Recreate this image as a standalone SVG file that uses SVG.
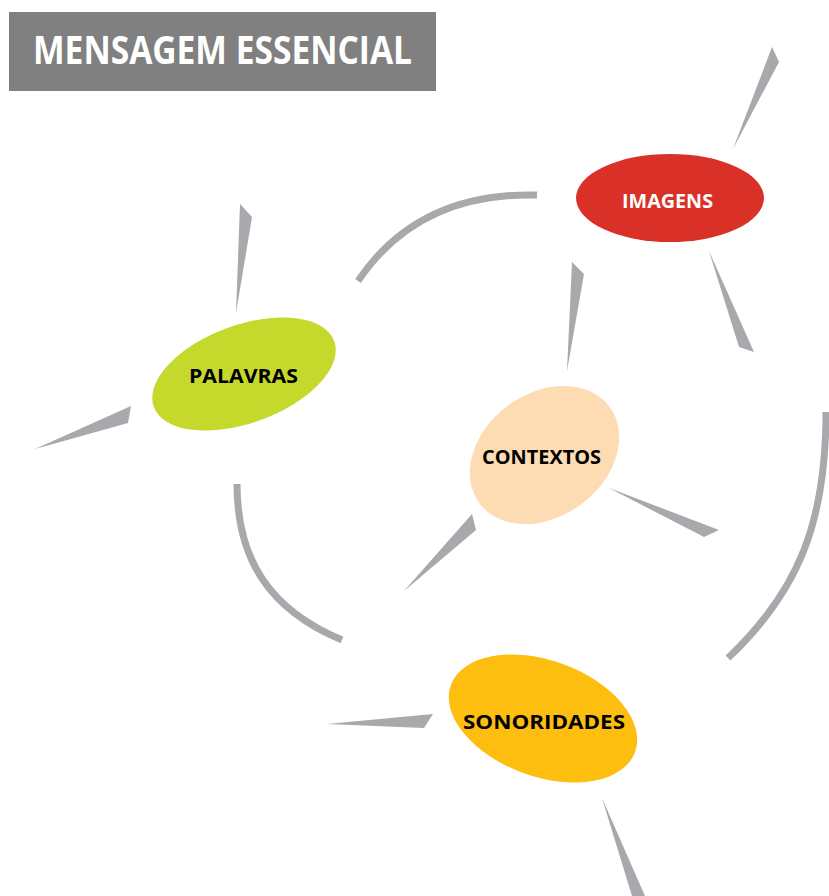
<svg xmlns="http://www.w3.org/2000/svg" width="829" height="896" viewBox="0 0 829 896">
<style>
.spike{fill:#A7A9AC}
.arc{fill:none;stroke:#A7A9AC;stroke-width:7}
.lbl{font-family:"Open Sans","Liberation Sans",sans-serif;font-weight:bold;font-size:19.5px}
</style>
<rect width="829" height="896" fill="#FFFFFF"/>
<g id="title">
<rect x="9" y="12" width="427" height="79" fill="#808080"/>
<text x="33" y="64" font-family="'Open Sans','Liberation Sans',sans-serif" font-weight="bold" font-size="40" fill="#FFFFFF" textLength="379" lengthAdjust="spacingAndGlyphs">MENSAGEM ESSENCIAL</text>
</g>
<g id="connectors">
<path class="arc" d="M358,281 Q418,192 537,195"/>
<path class="arc" d="M237,484 C237,560 270,610 342,640"/>
<path class="arc" d="M826,412 C826,520 800,590 728,658"/>
<polygon class="spike" points="733,149 772,47 779,62"/>
<polygon class="spike" points="709,251 739,347 754,352"/>
<polygon class="spike" points="572,262 584,274 567,371"/>
<polygon class="spike" points="240,204 252,217 236,313"/>
<polygon class="spike" points="35,449 131,406 128,423"/>
<polygon class="spike" points="609,488 719,530 704,537"/>
<polygon class="spike" points="472,514 476,530 404,591"/>
<polygon class="spike" points="327,724 433,714 424,728"/>
<polygon class="spike" points="602,798 645,896 632,896"/>
</g>
<g id="imagens">
<ellipse cx="670" cy="198" rx="94" ry="44" fill="#D93127"/>
<text class="lbl" x="622" y="208" fill="#FFFFFF" textLength="91" lengthAdjust="spacingAndGlyphs">IMAGENS</text>
</g>
<g id="palavras">
<ellipse cx="244" cy="374" rx="96" ry="49" fill="#C5D92D" transform="rotate(-20 244 374)"/>
<text class="lbl" x="189" y="383" fill="#000000" textLength="109" lengthAdjust="spacingAndGlyphs">PALAVRAS</text>
</g>
<g id="contextos">
<ellipse cx="544.5" cy="455" rx="81" ry="61.5" fill="#FDDCB4" transform="rotate(-36.6 544.5 455)"/>
<text class="lbl" x="482" y="464" fill="#000000" textLength="119" lengthAdjust="spacingAndGlyphs">CONTEXTOS</text>
</g>
<g id="sonoridades">
<ellipse cx="543" cy="718.5" rx="98" ry="58" fill="#FDBE0F" transform="rotate(20 543 718.5)"/>
<text class="lbl" x="463" y="729" fill="#000000" textLength="162" lengthAdjust="spacingAndGlyphs">SONORIDADES</text>
</g>
</svg>
